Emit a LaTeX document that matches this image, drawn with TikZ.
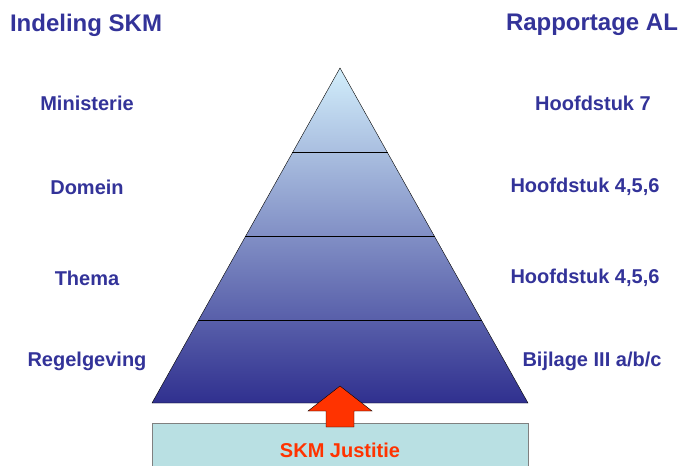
\documentclass[tikz,border=0pt]{standalone}
\usepackage{fontspec}
\setmainfont{Liberation Sans}
\definecolor{tekst}{HTML}{333399}
\definecolor{piektop}{HTML}{D2EEFB}
\definecolor{piekvoet}{HTML}{30308F}
\definecolor{kader}{HTML}{B9E0E3}
\definecolor{pijl}{HTML}{FF3300}
\tikzset{
  titel/.style={text=tekst,font=\bfseries\fontsize{24}{26}\selectfont},
  label/.style={text=tekst,font=\bfseries\fontsize{20}{22}\selectfont},
}
\begin{document}
\begin{tikzpicture}[x=1pt,y=-1pt]
		\useasboundingbox (0,0) rectangle (678,466);
		\clip (0,0) rectangle (678,466);
		% Piramide
		\coordinate (top) at (340,68);
		\coordinate (links) at (152,403);
		\coordinate (rechts) at (528,403);
		\shade [top color=piektop,bottom color=piekvoet] (top) -- (rechts) -- (links) -- cycle;
		\draw [thin] (292,152) -- (388,152);
		\draw [thin] (245,236) -- (435,236);
		\draw [thin] (198,320) -- (482,320);
		\draw [thin] (top) -- (rechts) -- (links) -- cycle;
		% Kader
		\draw [gray,fill=kader] (152,423) rectangle (528,470);
		\node (justitie) at (340,450) [text=pijl,font=\bfseries\fontsize{20}{22}\selectfont]{SKM Justitie};
		% Pijl
		\draw [fill=pijl,thin] (340,386) -- (372,411) -- (354,411) -- (354,427) -- (326,427) -- (326,411) -- (308,411) -- cycle;
		% Teksten
		\node (links0) at (86,25) [titel]{Indeling SKM};
		\node (rechts0) at (592,25) [titel]{Rapportage AL};
		\node (links1) at (87,103) [label]{Ministerie};
		\node (links2) at (87,187) [label]{Domein};
		\node (links3) at (87,278) [label]{Thema};
		\node (links4) at (87,361) [label]{Regelgeving};
		\node (rechts1) at (593,103) [label]{Hoofdstuk 7};
		\node (rechts2) at (585,187) [label]{Hoofdstuk 4,5,6};
		\node (rechts3) at (585,278) [label]{Hoofdstuk 4,5,6};
		\node (rechts4) at (592,361) [label]{Bijlage III a/b/c};
		\end{tikzpicture}
\end{document}
